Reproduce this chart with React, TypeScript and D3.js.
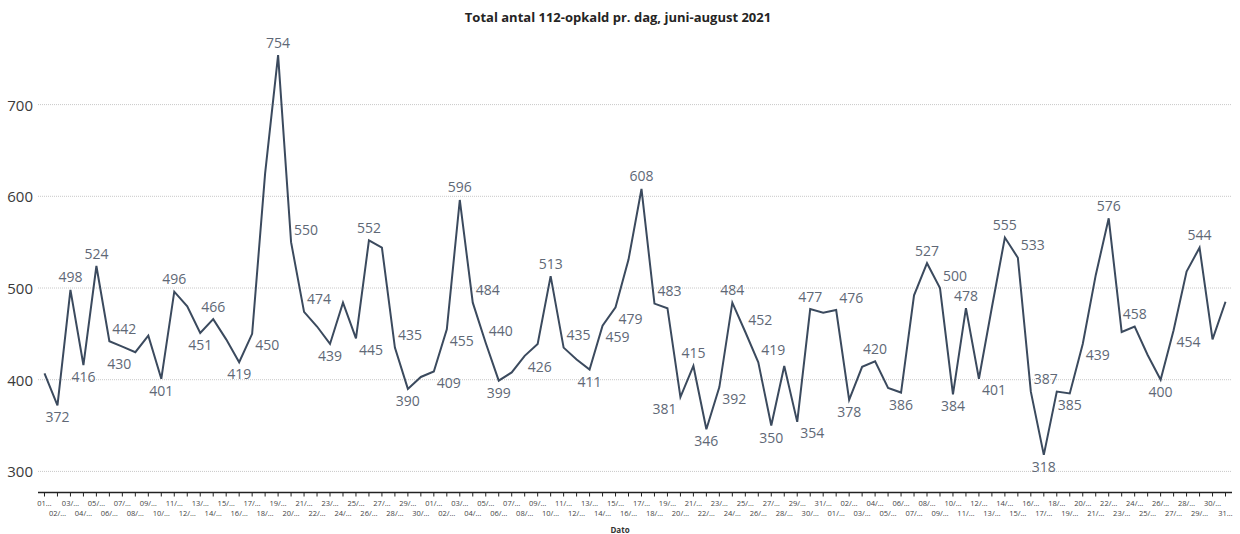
import React from "react";
import * as d3 from "d3";

const title = "Total antal 112-opkald pr. dag, juni-august 2021";
const xTitle = "Dato";

const juneValues = [407, 372, 498, 416, 524, 442, 436, 430, 448, 401, 496, 480, 451, 466, 444, 419, 450, 625, 754, 550, 474, 458, 439, 484, 445, 552, 544, 435, 390, 403];
const julyValues = [409, 455, 596, 484, 440, 399, 408, 426, 439, 513, 435, 422, 411, 459, 479, 531, 608, 483, 478, 381, 415, 346, 392, 484, 452, 419, 350, 415, 354, 477, 473];
const augustValues = [476, 378, 414, 420, 391, 386, 492, 527, 500, 384, 478, 401, 479, 555, 533, 387, 318, 387, 385, 439, 514, 576, 452, 458, 427, 400, 454, 518, 544, 444, 485];

const months = [
  { m: "06", days: 30 },
  { m: "07", days: 31 },
  { m: "08", days: 31 },
];
const categories: string[] = months.flatMap(({ m, days }) =>
  d3.range(1, days + 1).map((d) => `${String(d).padStart(2, "0")}/${m}/2021`)
);
const values = [...juneValues, ...julyValues, ...augustValues];

const yTicks = [300, 400, 500, 600, 700];

// which points carry a data label, and where the label sits (a=above, b=below, ar/br=right, bl=left)
const labelPlacement: Record<number, string> = {
  1: "b", 2: "a", 3: "b", 4: "a", 5: "ar", 7: "bl", 9: "b", 10: "a", 12: "b", 13: "a",
  15: "b", 16: "br", 18: "a", 19: "ar", 20: "ar", 22: "b", 24: "br", 25: "a", 27: "ar", 28: "b",
  30: "br", 31: "br", 32: "a", 33: "ar", 34: "ar", 35: "b", 37: "br", 39: "a", 40: "ar", 42: "b",
  43: "br", 44: "br", 46: "a", 47: "ar", 49: "bl", 50: "a", 51: "b", 52: "br", 53: "a", 54: "ar",
  55: "ar", 56: "b", 58: "br", 59: "a", 61: "ar", 62: "b", 64: "a", 66: "b", 68: "a", 69: "ar",
  70: "b", 71: "a", 72: "br", 74: "a", 75: "ar", 76: "ar", 77: "b", 79: "b", 80: "br", 82: "a",
  84: "a", 86: "b", 87: "br", 89: "a",
};
const offsets: Record<string, [number, number]> = {
  a: [0, -13],
  b: [0, 11.5],
  ar: [15, -13],
  br: [15, 11],
  bl: [-16, 11],
};

const W = 1240;
const H = 534;
const left = 38;
const right = 1232;
const axisY = 492.5;
const topY = 34;

export default function App() {
  const x = d3.scaleBand<string>().domain(categories).range([left, right]).padding(0);
  const cx = (c: string) => (x(c) as number) + x.bandwidth() / 2;
  const y = d3.scaleLinear().domain([277, 777]).range([axisY, topY]);

  const line = d3
    .line<number>()
    .x((_, i) => cx(categories[i]))
    .y((v) => y(v));

  const font = "'Open Sans', 'Noto Sans', sans-serif";

  const tickLabel = (c: string, i: number) => {
    const dd = c.slice(0, 2);
    if (i === 0 || i === categories.length - 1) return `${dd}…`;
    return `${dd}/…`;
  };

  return (
    <svg
      width={W}
      height={H}
      style={{ position: "absolute", left: 0, top: 0, background: "#fff" }}
      fontFamily={font}
    >
      <text x={618} y={22} textAnchor="middle" fontSize={13} fontWeight={700} fill="#252423">
        {title}
      </text>

      {yTicks.map((t) => (
        <g key={t}>
          <line
            x1={left}
            x2={right}
            y1={y(t)}
            y2={y(t)}
            stroke="#c8c8c8"
            strokeWidth={1}
            strokeDasharray="1,1"
          />
          <text x={33} y={y(t)} textAnchor="end" dominantBaseline="central" fontSize={15} fill="#3a3a3a">
            {t}
          </text>
        </g>
      ))}

      <line x1={left} x2={right} y1={axisY} y2={axisY} stroke="#222" strokeWidth={1.5} />
      {categories.map((c, i) => (
        <g key={c}>
          <line x1={cx(c)} x2={cx(c)} y1={axisY} y2={axisY + 4} stroke="#222" strokeWidth={1} />
          <text
            x={cx(c)}
            y={i % 2 === 0 ? 503 : 513}
            textAnchor="middle"
            dominantBaseline="central"
            fontSize={7.5}
            fill="#444"
          >
            {tickLabel(c, i)}
          </text>
        </g>
      ))}
      <text x={620} y={529} textAnchor="middle" dominantBaseline="central" fontSize={8} fontWeight={700} fill="#333">
        {xTitle}
      </text>

      <path d={line(values) || ""} fill="none" stroke="#3b4a5e" strokeWidth={2} strokeLinejoin="miter" />

      {values.map((v, i) => {
        const p = labelPlacement[i];
        if (!p) return null;
        const [dx, dy] = offsets[p];
        return (
          <text
            key={i}
            x={cx(categories[i]) + dx}
            y={y(v) + dy}
            textAnchor="middle"
            dominantBaseline="central"
            fontSize={14}
            fill="#606876"
          >
            {v}
          </text>
        );
      })}
    </svg>
  );
}
